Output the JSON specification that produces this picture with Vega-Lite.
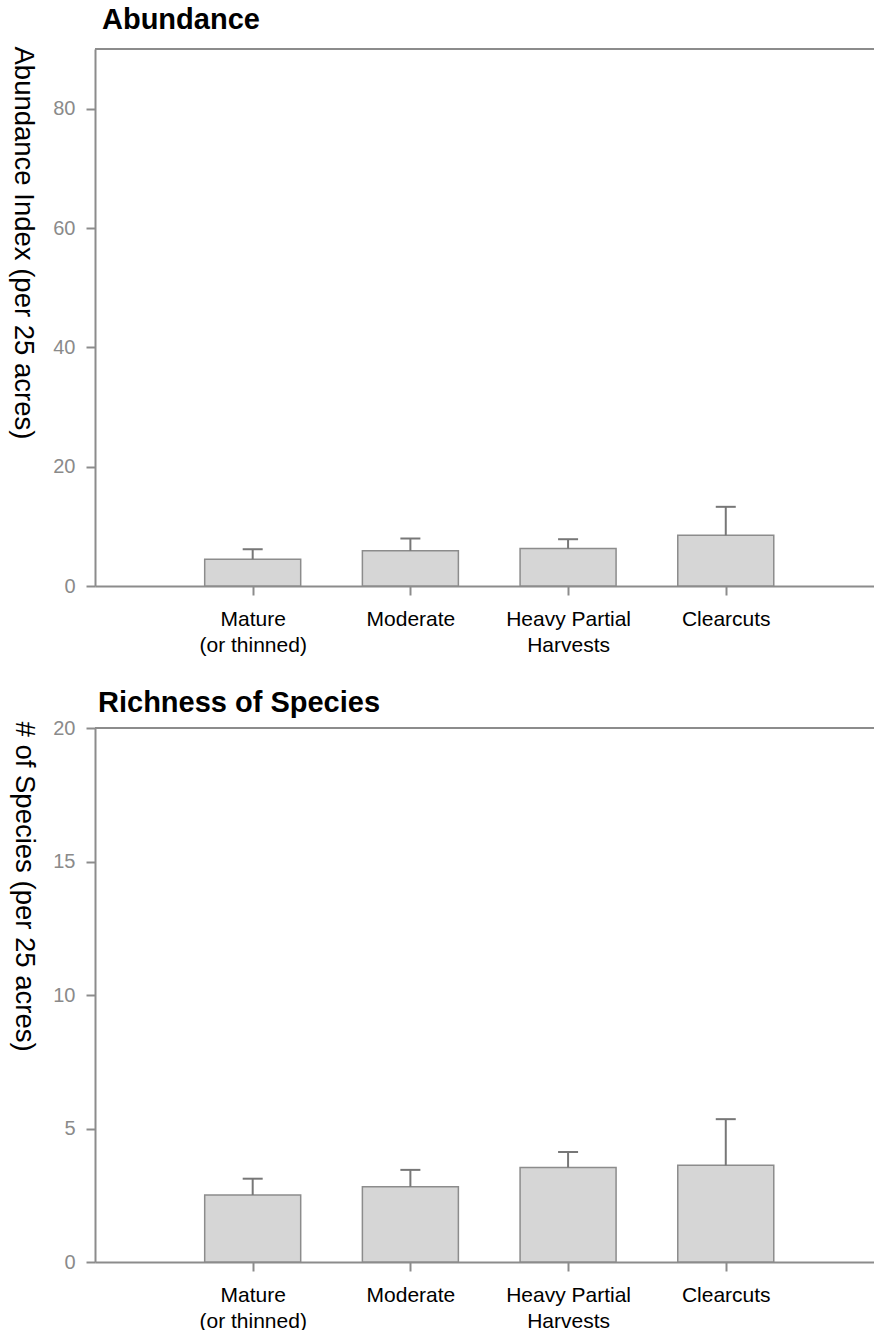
{
  "$schema": "https://vega.github.io/schema/vega-lite/v6.json",
  "background": "white",
  "padding": {"left": 8, "top": 6, "right": 0, "bottom": 0},
  "spacing": 34,
  "config": {
    "view": {"stroke": null},
    "font": "Liberation Sans",
    "axis": {
      "grid": false,
      "domainColor": "#8c8c8c",
      "domainWidth": 2,
      "tickColor": "#8c8c8c",
      "tickWidth": 2,
      "tickSize": 9
    }
  },
  "datasets": {
    "abund": [
      {"pos": 1, "group": "Mature (or thinned)", "mean": 4.49, "upper": 6.16},
      {"pos": 2, "group": "Moderate", "mean": 5.9, "upper": 7.96},
      {"pos": 3, "group": "Heavy Partial Harvests", "mean": 6.28, "upper": 7.84},
      {"pos": 4, "group": "Clearcuts", "mean": 8.5, "upper": 13.27}
    ],
    "rich": [
      {"pos": 1, "group": "Mature (or thinned)", "mean": 2.51, "upper": 3.12},
      {"pos": 2, "group": "Moderate", "mean": 2.82, "upper": 3.45},
      {"pos": 3, "group": "Heavy Partial Harvests", "mean": 3.54, "upper": 4.12},
      {"pos": 4, "group": "Clearcuts", "mean": 3.62, "upper": 5.35}
    ]
  },
  "vconcat": [
    {
      "width": 779,
      "height": 537,
      "title": {"text": "Abundance", "anchor": "start", "frame": "group", "dx": 7, "offset": 11, "fontSize": 29, "fontWeight": "bold", "font": "Liberation Sans", "color": "black"},
      "data": {"name": "abund"},
      "layer": [
        {
          "mark": {"type": "bar", "size": 96, "fill": "#d6d6d6", "stroke": "#8c8c8c", "strokeWidth": 1.5},
          "encoding": {
            "x": {"field": "pos", "type": "quantitative", "scale": {"domain": [0, 4.94], "nice": false, "zero": true, "padding": 0},
              "axis": {"values": [1, 2, 3, 4], "title": null, "labelFontSize": 21, "labelColor": "black", "labelPadding": 13, "labelLineHeight": 26, "labelFlush": false, "labelOverlap": false,
                "labelExpr": "datum.value == 1 ? ['Mature', '(or thinned)'] : datum.value == 2 ? 'Moderate' : datum.value == 3 ? ['Heavy Partial', 'Harvests'] : datum.value == 4 ? 'Clearcuts' : ''"}},
            "y": {"field": "mean", "type": "quantitative", "scale": {"domain": [0, 90], "nice": false, "padding": 0},
              "axis": {"values": [0, 20, 40, 60, 80], "title": "Abundance Index  (per 25 acres)", "titleFontSize": 27.5, "titleFontWeight": "normal", "titleColor": "black", "titleAngle": 90, "titleAlign": "left", "titleBaseline": "middle", "titleX": -73, "titleY": -3, "labelFontSize": 20, "labelColor": "#8a8a8a", "labelPadding": 11}}
          }
        },
        {
          "mark": {"type": "rule", "color": "#777777", "strokeWidth": 2},
          "encoding": {
            "x": {"field": "pos", "type": "quantitative"},
            "y": {"field": "mean", "type": "quantitative"},
            "y2": {"field": "upper"}
          }
        },
        {
          "mark": {"type": "tick", "orient": "horizontal", "size": 20, "thickness": 2, "color": "#777777", "opacity": 1},
          "encoding": {
            "x": {"field": "pos", "type": "quantitative"},
            "y": {"field": "upper", "type": "quantitative"}
          }
        },
        {
          "mark": {"type": "rule", "color": "#8c8c8c", "strokeWidth": 2},
          "encoding": {"y": {"datum": 90}}
        }
      ]
    },
    {
      "width": 779,
      "height": 534,
      "title": {"text": "Richness of Species", "anchor": "start", "frame": "group", "dx": 3, "offset": 0, "fontSize": 29, "fontWeight": "bold", "font": "Liberation Sans", "color": "black"},
      "data": {"name": "rich"},
      "layer": [
        {
          "mark": {"type": "bar", "size": 96, "fill": "#d6d6d6", "stroke": "#8c8c8c", "strokeWidth": 1.5},
          "encoding": {
            "x": {"field": "pos", "type": "quantitative", "scale": {"domain": [0, 4.94], "nice": false, "zero": true, "padding": 0},
              "axis": {"values": [1, 2, 3, 4], "title": null, "labelFontSize": 21, "labelColor": "black", "labelPadding": 13, "labelLineHeight": 26, "labelFlush": false, "labelOverlap": false,
                "labelExpr": "datum.value == 1 ? ['Mature', '(or thinned)'] : datum.value == 2 ? 'Moderate' : datum.value == 3 ? ['Heavy Partial', 'Harvests'] : datum.value == 4 ? 'Clearcuts' : ''"}},
            "y": {"field": "mean", "type": "quantitative", "scale": {"domain": [0, 20], "nice": false, "padding": 0},
              "axis": {"values": [0, 5, 10, 15, 20], "title": "# of Species  (per 25 acres)", "titleFontSize": 27.5, "titleFontWeight": "normal", "titleColor": "black", "titleAngle": 90, "titleAlign": "left", "titleBaseline": "middle", "titleX": -72, "titleY": -7, "labelFontSize": 20, "labelColor": "#8a8a8a", "labelPadding": 11}}
          }
        },
        {
          "mark": {"type": "rule", "color": "#777777", "strokeWidth": 2},
          "encoding": {
            "x": {"field": "pos", "type": "quantitative"},
            "y": {"field": "mean", "type": "quantitative"},
            "y2": {"field": "upper"}
          }
        },
        {
          "mark": {"type": "tick", "orient": "horizontal", "size": 20, "thickness": 2, "color": "#777777", "opacity": 1},
          "encoding": {
            "x": {"field": "pos", "type": "quantitative"},
            "y": {"field": "upper", "type": "quantitative"}
          }
        },
        {
          "mark": {"type": "rule", "color": "#8c8c8c", "strokeWidth": 2},
          "encoding": {"y": {"datum": 20}}
        }
      ]
    }
  ]
}
